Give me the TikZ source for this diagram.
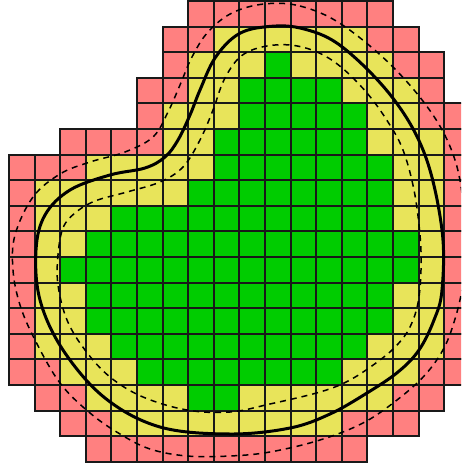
\documentclass[tikz,border=0pt]{standalone}
\definecolor{cellred}{RGB}{255,128,128}
\definecolor{cellyel}{RGB}{232,228,90}
\definecolor{cellgrn}{RGB}{0,204,0}
\def\cellrows{0/7/14/cellred,
1/6/7/cellred, 1/8/13/cellyel, 1/14/15/cellred,
2/6/6/cellred, 2/7/9/cellyel, 2/10/10/cellgrn, 2/11/14/cellyel, 2/15/16/cellred,
3/5/6/cellred, 3/7/8/cellyel, 3/9/12/cellgrn, 3/13/15/cellyel, 3/16/16/cellred,
4/5/5/cellred, 4/6/8/cellyel, 4/9/13/cellgrn, 4/14/15/cellyel, 4/16/17/cellred,
5/2/5/cellred, 5/6/7/cellyel, 5/8/13/cellgrn, 5/14/16/cellyel, 5/17/17/cellred,
6/0/2/cellred, 6/3/7/cellyel, 6/8/14/cellgrn, 6/15/16/cellyel, 6/17/17/cellred,
7/0/0/cellred, 7/1/6/cellyel, 7/7/14/cellgrn, 7/15/16/cellyel, 7/17/17/cellred,
8/0/0/cellred, 8/1/3/cellyel, 8/4/14/cellgrn, 8/15/16/cellyel, 8/17/17/cellred,
9/0/0/cellred, 9/1/2/cellyel, 9/3/15/cellgrn, 9/16/16/cellyel, 9/17/17/cellred,
10/0/0/cellred, 10/1/1/cellyel, 10/2/15/cellgrn, 10/16/16/cellyel, 10/17/17/cellred,
11/0/0/cellred, 11/1/2/cellyel, 11/3/14/cellgrn, 11/15/16/cellyel, 11/17/17/cellred,
12/0/0/cellred, 12/1/2/cellyel, 12/3/14/cellgrn, 12/15/16/cellyel, 12/17/17/cellred,
13/0/0/cellred, 13/1/3/cellyel, 13/4/13/cellgrn, 13/14/16/cellyel, 13/17/17/cellred,
14/0/1/cellred, 14/2/4/cellyel, 14/5/12/cellgrn, 14/13/15/cellyel, 14/16/17/cellred,
15/1/2/cellred, 15/3/6/cellyel, 15/7/8/cellgrn, 15/9/14/cellyel, 15/15/16/cellred,
16/2/3/cellred, 16/4/12/cellyel, 16/13/15/cellred,
17/3/13/cellred}
\begin{document}
\begin{tikzpicture}[x=1pt,y=-1pt,
  cellborder/.style={draw=black!90, line width=2pt, line join=miter},
  boundary/.style={draw=black, line width=3pt},
  offsetline/.style={draw=black, line width=1.5pt, dash pattern=on 6pt off 5pt}]
\useasboundingbox (0,0) rectangle (461,466);
\begin{scope}
\clip (0,0) rectangle (461,466);
\foreach \r/\a/\b/\col in \cellrows {
  \foreach \c in {\a,...,\b} {
    \fill[\col] (9+25.6*\c, 1+25.6*\r) rectangle ++(25.6,25.6);
  }
}
\foreach \r/\a/\b/\col in \cellrows {
  \foreach \c in {\a,...,\b} {
    \draw[cellborder] (9+25.6*\c, 1+25.6*\r) rectangle ++(25.6,25.6);
  }
}
% outer offset curve
\draw[offsetline] plot[smooth cycle, tension=0.6] coordinates {
 (264,4) (300,6) (341,24) (392,66) (433,115) (455,160) (464,210) (466,260)
 (462,290) (455,319) (444,348) (425,375) (397,400) (363,423) (320,440)
 (270,452) (230,456) (187,456) (150,449) (120,434) (90,413) (60,383)
 (35,340) (20,305) (13,270) (15,235) (33,197) (60,174) (90,162) (125,152)
 (153,137) (168,112) (180,85) (192,57) (208,32) (232,13)};
% inner offset curve
\draw[offsetline] plot[smooth cycle, tension=0.6] coordinates {
 (290,45) (317,52) (341,67) (367,93) (388,122) (403,150) (414,190) (420,235)
 (421,270) (418,303) (410,327) (398,344) (380,360) (350,380) (320,392)
 (270,404) (230,412) (187,410) (143,397) (110,377) (85,350) (67,320)
 (58,285) (58,255) (63,228) (75,213) (95,201) (127,192) (160,182) (183,167)
 (200,140) (213,110) (224,80) (240,57) (262,47)};
% boundary curve
\draw[boundary] plot[smooth cycle, tension=0.6] coordinates {
 (264,27) (300,28) (341,46) (392,97) (425,155) (442,230) (442,290) (434,320)
 (419,350) (398,372) (367,393) (330,414) (290,428) (230,434) (160,427)
 (105,398) (63,350) (40,300) (36,250) (45,215) (70,190) (110,175) (145,168)
 (165,157) (178,140) (190,115) (200,90) (215,58) (237,35)};
\end{scope}
\end{tikzpicture}
\end{document}
